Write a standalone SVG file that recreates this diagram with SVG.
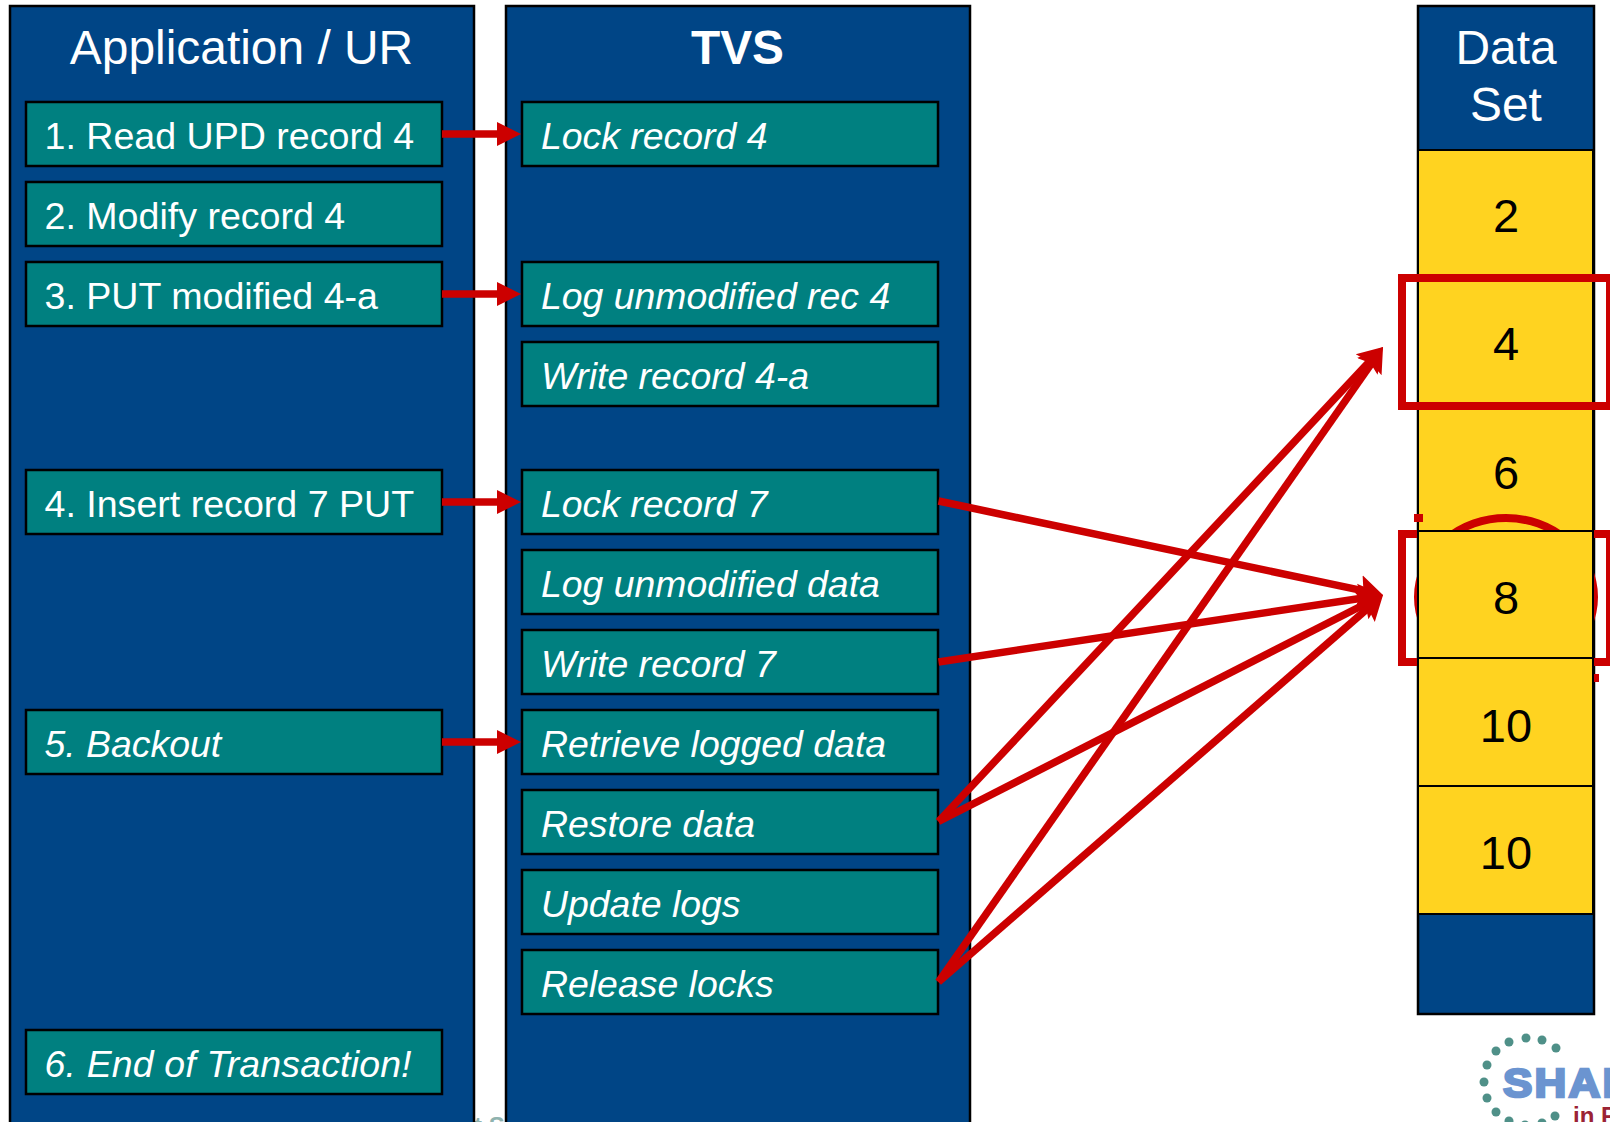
<svg xmlns="http://www.w3.org/2000/svg" width="1610" height="1122" viewBox="0 0 1610 1122">
<style>
text{font-family:"Liberation Sans",Arial,sans-serif}
.panel{fill:#004586;stroke:#000;stroke-width:2.5}
.box{fill:#008080;stroke:#000;stroke-width:2.5}
.t{fill:#fff;font-size:37.4px}
.r{font-size:37.6px}
.i{font-style:italic}
.h{fill:#fff;font-size:47.9px;text-anchor:middle}
.cell{fill:#ffd320;stroke:#000;stroke-width:2}
.n{fill:#000;font-size:47px;text-anchor:middle}
.red{fill:none;stroke:#c00;stroke-width:8}
.c{stroke:#c00;stroke-width:7.5;fill:none;marker-end:url(#big)}
.s{stroke:#c00;stroke-width:7.5;fill:none;marker-end:url(#small)}
.dot{fill:#4f9088}
</style>
<defs>
<marker id="big" markerUnits="userSpaceOnUse" markerWidth="32" markerHeight="32" refX="14" refY="16" orient="auto"><path d="M0 1L24 16L0 31L4 16Z" fill="#c00"/></marker>
<marker id="small" markerUnits="userSpaceOnUse" markerWidth="30" markerHeight="30" refX="2" refY="15" orient="auto"><path d="M0 3L24 15L0 27Z" fill="#c00"/></marker>
</defs>
<rect width="1610" height="1122" fill="#fff"/>
<g id="logo">
<g class="dot">
<circle cx="1556" cy="1048" r="4.5"/><circle cx="1542" cy="1040" r="4.5"/><circle cx="1526" cy="1038" r="4.5"/><circle cx="1509" cy="1042" r="4.5"/><circle cx="1496" cy="1051" r="4.5"/><circle cx="1487" cy="1065" r="4.5"/><circle cx="1484" cy="1082" r="4.5"/><circle cx="1487" cy="1098" r="4.5"/><circle cx="1496" cy="1112" r="4.5"/><circle cx="1509" cy="1121" r="4.5"/><circle cx="1525" cy="1125" r="4.5"/><circle cx="1542" cy="1123" r="4.5"/><circle cx="1555" cy="1116" r="4.5"/>
</g>
<text transform="translate(1503 1097) scale(1.1 1)" font-size="40" letter-spacing="2" font-weight="700" fill="#6b94d0" stroke="#6b94d0" stroke-width="2.5">SHAR</text>
<text x="1573" y="1124" font-size="24" font-weight="700" fill="#9b2335">in P</text>
<text x="474" y="1134" font-size="24" font-weight="700" fill="#8fb3af">t S</text>
</g>
<g id="panel-app">
<rect class="panel" x="10" y="6" width="464" height="1130"/>
<text class="h" x="241.5" y="64">Application / UR</text>
</g>
<g id="panel-tvs">
<rect class="panel" x="506" y="6" width="464" height="1130"/>
<text class="h" x="737.5" y="64" font-weight="700">TVS</text>
</g>
<g id="panel-data">
<rect class="panel" x="1418" y="6" width="176" height="1008"/>
<text class="h" x="1506" y="64">Data</text>
<text class="h" x="1506" y="121">Set</text>
</g>
<g id="a1"><rect class="box" x="26" y="102" width="416" height="64"/><text class="t r" x="44.5" y="149">1. Read UPD record 4</text></g>
<g id="a2"><rect class="box" x="26" y="182" width="416" height="64"/><text class="t r" x="44.5" y="229">2. Modify record 4</text></g>
<g id="a3"><rect class="box" x="26" y="262" width="416" height="64"/><text class="t r" x="44.5" y="309">3. PUT modified 4-a</text></g>
<g id="a4"><rect class="box" x="26" y="470" width="416" height="64"/><text class="t r" x="44.5" y="517">4. Insert record 7 PUT</text></g>
<g id="a5"><rect class="box" x="26" y="710" width="416" height="64"/><text class="t i" x="44.5" y="757">5. Backout</text></g>
<g id="a6"><rect class="box" x="26" y="1030" width="416" height="64"/><text class="t i" x="44.5" y="1077" textLength="367">6. End of Transaction!</text></g>
<g id="t1"><rect class="box" x="522" y="102" width="416" height="64"/><text class="t i" x="541" y="149">Lock record 4</text></g>
<g id="t2"><rect class="box" x="522" y="262" width="416" height="64"/><text class="t i" x="541" y="309">Log unmodified rec 4</text></g>
<g id="t3"><rect class="box" x="522" y="342" width="416" height="64"/><text class="t i" x="541" y="389">Write record 4-a</text></g>
<g id="t4"><rect class="box" x="522" y="470" width="416" height="64"/><text class="t i" x="541" y="517">Lock record 7</text></g>
<g id="t5"><rect class="box" x="522" y="550" width="416" height="64"/><text class="t i" x="541" y="597">Log unmodified data</text></g>
<g id="t6"><rect class="box" x="522" y="630" width="416" height="64"/><text class="t i" x="541" y="677">Write record 7</text></g>
<g id="t7"><rect class="box" x="522" y="710" width="416" height="64"/><text class="t i" x="541" y="757">Retrieve logged data</text></g>
<g id="t8"><rect class="box" x="522" y="790" width="416" height="64"/><text class="t i" x="541" y="837">Restore data</text></g>
<g id="t9"><rect class="box" x="522" y="870" width="416" height="64"/><text class="t i" x="541" y="917">Update logs</text></g>
<g id="t10"><rect class="box" x="522" y="950" width="416" height="64"/><text class="t i" x="541" y="997">Release locks</text></g>
<g id="cell-2"><rect class="cell" x="1418" y="150" width="175" height="128"/><text class="n" x="1506" y="232">2</text></g>
<g id="cell-4"><rect class="cell" x="1418" y="278" width="175" height="128"/><text class="n" x="1506" y="360">4</text></g>
<g id="cell-6"><rect class="cell" x="1418" y="403" width="175" height="128"/><text class="n" x="1506" y="489">6</text></g>
<g id="marks">
<rect class="red" x="1402" y="278" width="208" height="128"/>
<ellipse class="red" cx="1506" cy="597" rx="88" ry="79"/>
<rect class="red" x="1402" y="534" width="208" height="128"/>
<rect x="1414" y="514" width="9" height="8" fill="#c00"/>
<rect x="1594" y="674" width="5" height="8" fill="#c00"/>
</g>
<g id="cell-8"><rect class="cell" x="1418" y="531" width="175" height="127"/><text class="n" x="1506" y="614">8</text></g>
<g id="cell-10a"><rect class="cell" x="1418" y="658" width="175" height="128"/><text class="n" x="1506" y="742">10</text></g>
<g id="cell-10b"><rect class="cell" x="1418" y="786" width="175" height="128"/><text class="n" x="1506" y="869">10</text></g>
<g id="connectors">
<line class="s" x1="442" y1="134" x2="499" y2="134"/>
<line class="s" x1="442" y1="294" x2="499" y2="294"/>
<line class="s" x1="442" y1="502" x2="499" y2="502"/>
<line class="s" x1="442" y1="742" x2="499" y2="742"/>
<line class="c" x1="938.5" y1="501" x2="1373.2" y2="592.9"/>
<line class="c" x1="938.5" y1="662" x2="1373.1" y2="596.5"/>
<line class="c" x1="938.5" y1="821.5" x2="1374.1" y2="599.5"/>
<line class="c" x1="938.5" y1="982" x2="1375.5" y2="601.6"/>
<line class="c" x1="938.5" y1="821.5" x2="1376.2" y2="354.3"/>
<line class="c" x1="938.5" y1="982" x2="1377.3" y2="355.2"/>
</g>
</svg>
